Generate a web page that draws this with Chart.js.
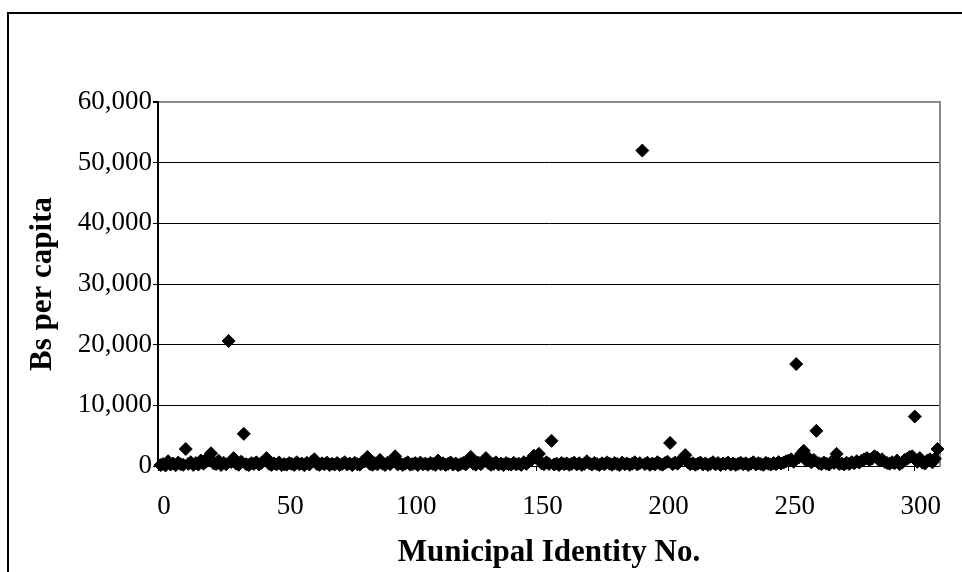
<!DOCTYPE html>
<html>
<head>
<meta charset="utf-8">
<script src="https://cdn.jsdelivr.net/npm/chart.js@4.4.1/dist/chart.umd.min.js"></script>
<style>
html, body { margin: 0; padding: 0; background: #fff; overflow: hidden; }
#wrap { position: relative; width: 962px; height: 572px; }
.frame { position: absolute; left: 7px; top: 12px; width: 1000px; height: 600px; border: 2px solid #000; box-sizing: border-box; }
#chart { position: absolute; left: 0; top: 0; }
</style>
</head>
<body>
<div id="wrap">
  <div class="frame"></div>
  <canvas id="chart" width="962" height="572"></canvas>
</div>
<script>
// Bs per capita, municipality 1 .. 309
const perCapita = [
    150, 320, 90, 800, 240, 410, 130, 560, 280, 190,
    2800, 350, 620, 170, 480, 230, 900, 390, 700, 1500,
    2100, 450, 310, 880, 160, 540, 270, 20600, 640, 1300,
    380, 210, 720, 5300, 290, 150, 470, 330, 600, 250,
    520, 900, 1300, 360, 180, 430, 260, 590, 140, 310,
    220, 480, 350, 170, 610, 290, 400, 130, 520, 240,
    760, 1100, 330, 190, 450, 280, 560, 150, 370, 230,
    490, 180, 340, 620, 260, 410, 140, 530, 300, 220,
    680, 780, 1500, 350, 210, 460, 270, 1000, 390, 160,
    540, 300, 720, 1600, 250, 430, 180, 370, 610, 230,
    320, 480, 150, 560, 270, 400, 200, 510, 340, 190,
    900, 280, 450, 170, 360, 590, 240, 420, 130, 310,
    500, 260, 700, 1500, 380, 220, 560, 290, 820, 1300,
    440, 190, 350, 600, 250, 410, 160, 480, 300, 230,
    530, 270, 390, 180, 620, 340, 760, 980, 1700, 1400,
    2000, 450, 280, 620, 330, 4150, 240, 390, 170, 510,
    290, 430, 200, 360, 560, 250, 470, 180, 340, 780,
    420, 230, 510, 310, 160, 450, 270, 600, 380, 210,
    490, 330, 150, 560, 280, 420, 200, 380, 610, 250,
    470, 52000, 310, 540, 190, 400, 260, 630, 350, 220,
    480, 700, 3800, 290, 560, 380, 900, 1200, 1800, 640,
    300, 450, 210, 380, 570, 240, 430, 180, 350, 620,
    270, 490, 160, 400, 310, 560, 230, 420, 190, 360,
    540, 280, 450, 170, 390, 610, 250, 470, 320, 200,
    520, 360, 230, 480, 300, 640, 410, 560, 780, 900,
    1100, 700, 16800, 1400, 2000, 2500, 900, 1300, 600, 1000,
    5800, 450, 300, 560, 380, 240, 700, 480, 2000, 350,
    410, 260, 530, 330, 620, 450, 800, 560, 900, 1100,
    1300, 1000, 1200, 1600, 1400, 900, 1100, 700, 500, 380,
    620, 450, 900, 300, 560, 1000, 1200, 1500, 1600, 8150,
    700, 1300, 560, 400, 900, 1100, 600, 1200, 2800
];

const xTicks = [0, 50, 100, 150, 200, 250, 300];
const yTicks = [0, 10000, 20000, 30000, 40000, 50000, 60000];

// identity number = position in the list
let points = [];
for (let i = 0; i < perCapita.length; i++) {
    points.push({ x: i + 1, y: perCapita[i] });
}

const serif = '"Liberation Serif", "Times New Roman", serif';

const ctx = document.getElementById('chart').getContext('2d');
const myChart = new Chart(ctx, {
    type: 'scatter',
    data: {
        datasets: [{
            data: points,
            pointStyle: 'rectRot',
            radius: 6.5,
            hoverRadius: 6.5,
            backgroundColor: '#000',
            borderColor: '#000',
            borderWidth: 1,
            clip: false
        }]
    },
    options: {
        responsive: false,
        animation: false,
        layout: { padding: { top: 102, right: 22, left: 0, bottom: 0 } },
        plugins: { legend: { display: false }, tooltip: { enabled: false } },
        scales: {
            x: {
                type: 'linear',
                position: 'bottom',
                min: 0,
                max: 310,
                afterBuildTicks: function (s) { s.ticks = xTicks.map(v => ({ value: v })); },
                afterFit: function (s) { s.height = 106; },
                grid: { drawOnChartArea: false, tickLength: 5, color: '#000' },
                border: { color: '#000', width: 1 },
                ticks: {
                    font: { family: serif, size: 27 },
                    color: '#000',
                    padding: 20,
                    labelOffset: 6,
                    maxRotation: 0,
                    autoSkip: false
                },
                title: {
                    display: true,
                    text: 'Municipal Identity No.',
                    font: { family: serif, size: 31, weight: 'bold' },
                    color: '#000',
                    padding: { top: 0, bottom: 0 }
                }
            },
            y: {
                min: 0,
                max: 60000,
                afterBuildTicks: function (s) { s.ticks = yTicks.map(v => ({ value: v })); },
                afterFit: function (s) { s.width = 158; },
                grid: {
                    color: c => (c.tick && c.tick.value === 60000) ? '#8a8a8a' : '#000',
                    lineWidth: c => (c.tick && c.tick.value === 60000) ? 2 : 1,
                    tickLength: 5,
                    tickColor: '#000'
                },
                border: { color: '#000', width: 2 },
                ticks: {
                    font: { family: serif, size: 27 },
                    color: '#000',
                    padding: 1,
                    callback: v => v.toLocaleString('en-US')
                },
                title: {
                    display: true,
                    text: 'Bs per capita',
                    font: { family: serif, size: 31, weight: 'bold' },
                    color: '#000',
                    padding: { top: 24, bottom: 0 }
                }
            },
            y2: {
                position: 'right',
                min: 0,
                max: 60000,
                grid: { display: false },
                ticks: { display: false },
                border: { color: '#8a8a8a', width: 2 },
                afterFit: function (s) { s.width = 0; }
            }
        }
    }
});
</script>
</body>
</html>
